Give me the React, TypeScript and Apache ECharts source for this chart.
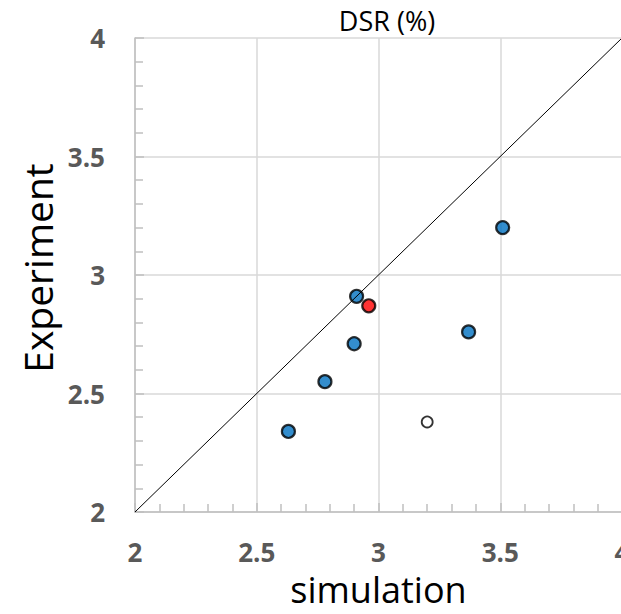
import React, { useEffect, useRef } from "react";
import * as echarts from "echarts";

const chartTitle = "DSR (%)";
const xAxisName = "simulation";
const yAxisName = "Experiment";
const blueX = [3.51, 2.91, 2.9, 3.37, 2.78, 2.63];
const blueY = [3.2, 2.91, 2.71, 2.76, 2.55, 2.34];
const redX = [2.96];
const redY = [2.87];
const whiteX = [3.2];
const whiteY = [2.38];
const diagX = [2, 4];
const diagY = [2, 4];

const zip = (a: number[], b: number[]) => a.map((v, i) => [v, b[i]]);

export default function App() {
  const ref = useRef<HTMLDivElement>(null);
  useEffect(() => {
    if (!ref.current) return;
    const chart = echarts.init(ref.current, undefined, { renderer: "svg" });
    const axisCommon = {
      type: "value",
      min: 2,
      max: 4,
      interval: 0.5,
      axisLine: { show: true, lineStyle: { color: "#bfbfbf", width: 1.5 } },
      axisTick: { show: true, inside: true, length: 9, lineStyle: { color: "#bfbfbf", width: 1.5 } },
      minorTick: { show: true, splitNumber: 5, length: 8, lineStyle: { color: "#bfbfbf", width: 1.5 } },
      splitLine: { show: true, lineStyle: { color: "#d9d9d9", width: 1.5 } },
      axisLabel: {
        fontFamily: "Open Sans",
        fontWeight: "bold",
        fontSize: 26,
        lineHeight: 20,
        color: "#595959",
        formatter: (v: number) => String(v),
      },
      nameLocation: "middle",
    };
    chart.setOption({
      animation: false,
      title: {
        text: chartTitle,
        left: 382,
        textAlign: "center",
        top: 2,
        textStyle: { fontFamily: "Open Sans", fontWeight: "normal", fontSize: 27, color: "#000" },
      },
      grid: {
        left: 135,
        top: 38,
        width: 487,
        bottom: 102,
        containLabel: false,
        outerBoundsMode: "none",
      },
      xAxis: {
        ...axisCommon,
        name: xAxisName,
        nameGap: 62,
        nameTextStyle: { fontFamily: "Open Sans", fontSize: 36, lineHeight: 30, color: "#000" },
        axisLabel: { ...axisCommon.axisLabel, margin: 30 },
      },
      yAxis: {
        ...axisCommon,
        name: yAxisName,
        nameGap: 82,
        nameTextStyle: {
          fontFamily: "Open Sans",
          fontSize: 39,
          lineHeight: 32,
          color: "#000",
          padding: [0, 0, 0, 14],
        },
        axisLabel: { ...axisCommon.axisLabel, margin: 30 },
      },
      series: [
        {
          type: "line",
          data: zip(diagX, diagY),
          symbol: "none",
          lineStyle: { color: "#000", width: 1 },
          silent: true,
        },
        {
          type: "scatter",
          data: zip(blueX, blueY),
          symbolSize: 13,
          itemStyle: { color: "#0070c0", borderColor: "#000", borderWidth: 2.2 },
        },
        {
          type: "scatter",
          data: zip(redX, redY),
          symbolSize: 13,
          itemStyle: { color: "#ff0000", borderColor: "#000", borderWidth: 2.2 },
        },
        {
          type: "scatter",
          data: zip(whiteX, whiteY),
          symbolSize: 11,
          itemStyle: { color: "#fff", borderColor: "#000", borderWidth: 1.8 },
        },
      ],
    });
    return () => chart.dispose();
  }, []);
  return (
    <div
      ref={ref}
      style={{ position: "fixed", left: 0, top: 0, width: 621, height: 614, background: "#fff" }}
    />
  );
}
